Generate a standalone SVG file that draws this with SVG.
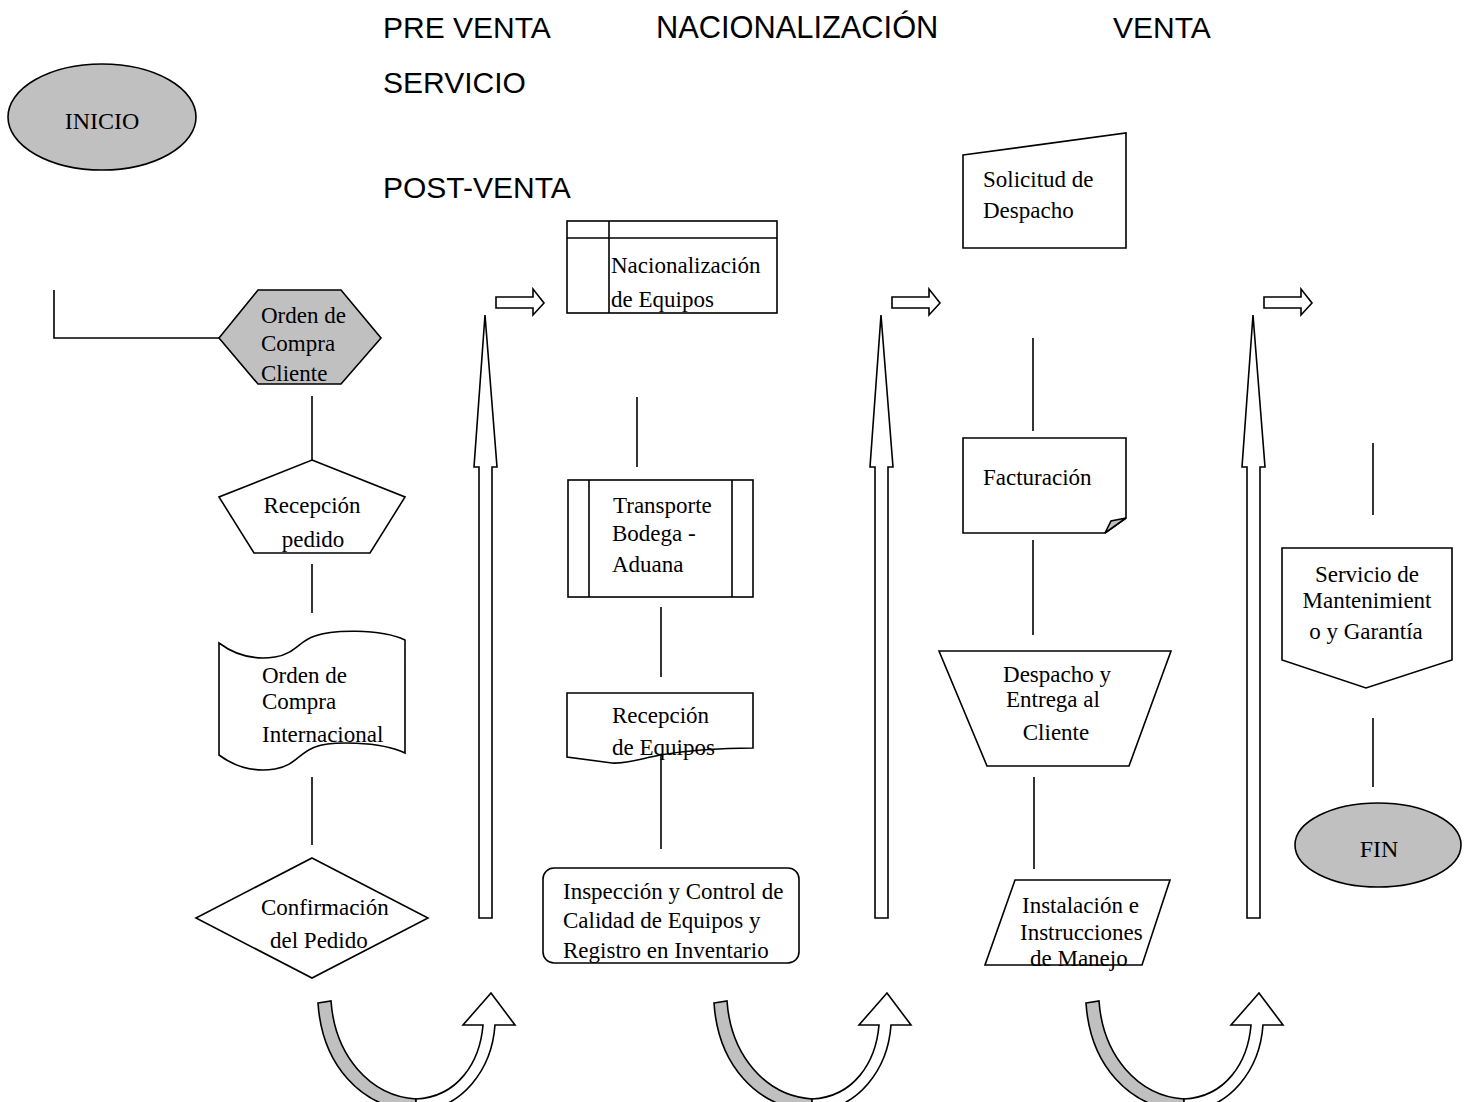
<svg xmlns="http://www.w3.org/2000/svg" width="1465" height="1102" viewBox="0 0 1465 1102">
<style>
.s{fill:#fff;stroke:#000;stroke-width:1.6;stroke-linejoin:miter}
.g{fill:#c0c0c0;stroke:#000;stroke-width:1.6}
.ln{fill:none;stroke:#000;stroke-width:1.6}
.t{font-family:"Liberation Serif","Times New Roman",serif;font-size:23px;fill:#000}
.h{font-family:"Liberation Sans",Arial,sans-serif;font-size:30px;fill:#000}
.m{text-anchor:middle}
</style>
<defs>
<g id="tall">
<path class="s" d="M479,918 L479,467 L474,467 L485,315 L497,467 L492,467 L492,918 Z"/>
</g>
<g id="small">
<path class="s" d="M496,297 L533,297 L533,289 L544,303 L533,315 L533,308 L496,308 Z"/>
</g>
<g id="uturn">
<path class="g" d="M318,1003 L331,1001 C335,1056 370,1096 416,1099 L416,1111 C360,1108 322,1064 318,1003 Z"/>
<path class="s" d="M416,1111 C463,1110 492,1068 495,1025 L515,1025 L491,993 L463,1025 L483,1025 C480,1062 458,1097 416,1099 Z"/>
</g>
</defs>

<g id="headers">
<text class="h" x="383" y="38">PRE VENTA</text>
<text class="h" x="656" y="38" style="font-size:30.8px">NACIONALIZACIÓN</text>
<text class="h" x="1113" y="38">VENTA</text>
<text class="h" x="383" y="93">SERVICIO</text>
<text class="h" x="383" y="198">POST-VENTA</text>
</g>

<g id="connectors">
<polyline class="ln" points="54,290 54,338 219,338"/>
<line class="ln" x1="312" y1="396" x2="312" y2="460"/>
<line class="ln" x1="312" y1="564" x2="312" y2="613"/>
<line class="ln" x1="312" y1="777" x2="312" y2="845"/>
<line class="ln" x1="637" y1="397" x2="637" y2="467"/>
<line class="ln" x1="661" y1="607" x2="661" y2="677"/>
<line class="ln" x1="661" y1="752" x2="661" y2="849"/>
<line class="ln" x1="1033" y1="338" x2="1033" y2="431"/>
<line class="ln" x1="1033" y1="540" x2="1033" y2="635"/>
<line class="ln" x1="1034" y1="777" x2="1034" y2="869"/>
<line class="ln" x1="1373" y1="443" x2="1373" y2="515"/>
<line class="ln" x1="1373" y1="718" x2="1373" y2="787"/>
<use href="#tall"/>
<use href="#tall" transform="translate(396,0)"/>
<use href="#tall" transform="translate(768,0)"/>
<use href="#small"/>
<use href="#small" transform="translate(396,0)"/>
<use href="#small" transform="translate(768,0)"/>
<use href="#uturn"/>
<use href="#uturn" transform="translate(396,0)"/>
<use href="#uturn" transform="translate(768,0)"/>
</g>

<g id="inicio">
<ellipse class="g" cx="102" cy="117" rx="94" ry="53"/>
<text class="t m" x="102" y="129" style="font-size:24px">INICIO</text>
</g>

<g id="orden-compra-cliente">
<path class="g" d="M219,338 L258,290 L341,290 L381,338 L341,384 L258,384 Z"/>
<text class="t" x="261" y="323">Orden de</text>
<text class="t" x="261" y="351">Compra</text>
<text class="t" x="261" y="381">Cliente</text>
</g>

<g id="recepcion-pedido">
<path class="s" d="M312,460 L405,497 L370,553 L254,553 L219,497 Z"/>
<text class="t m" x="312" y="513">Recepción</text>
<text class="t m" x="313" y="547">pedido</text>
</g>

<g id="orden-compra-internacional">
<path class="s" d="M219,643 C235,655 255,660 275,657 C295,654 300,640 315,636 C330,630 380,628 405,640 L405,753 C380,741 330,741 315,747 C300,752 295,766 275,769 C255,772 235,767 219,755 Z"/>
<text class="t" x="262" y="683">Orden de</text>
<text class="t" x="262" y="709">Compra</text>
<text class="t" x="262" y="742">Internacional</text>
</g>

<g id="confirmacion">
<path class="s" d="M312,858 L428,918 L312,978 L196,918 Z"/>
<text class="t" x="261" y="915">Confirmación</text>
<text class="t" x="270" y="948">del Pedido</text>
</g>

<g id="nacionalizacion">
<rect class="s" x="567" y="221" width="210" height="92"/>
<line class="ln" x1="567" y1="238" x2="777" y2="238"/>
<line class="ln" x1="609" y1="221" x2="609" y2="313"/>
<text class="t" x="611" y="273">Nacionalización</text>
<text class="t" x="611" y="307">de Equipos</text>
</g>

<g id="transporte">
<rect class="s" x="568" y="480" width="185" height="117"/>
<line class="ln" x1="589" y1="480" x2="589" y2="597"/>
<line class="ln" x1="732" y1="480" x2="732" y2="597"/>
<text class="t" x="613" y="513">Transporte</text>
<text class="t" x="612" y="541">Bodega -</text>
<text class="t" x="612" y="572">Aduana</text>
</g>

<g id="recepcion-equipos">
<path class="s" d="M567,693 L753,693 L753,748 C720,748 690,750 660,755 C640,759 625,764 612,763 L567,757 Z"/>
<text class="t" x="612" y="723">Recepción</text>
<text class="t" x="612" y="755">de Equipos</text>
</g>

<g id="inspeccion">
<rect class="s" x="543" y="868" width="256" height="95" rx="11"/>
<text class="t" x="563" y="899">Inspección y Control de</text>
<text class="t" x="563" y="928">Calidad de Equipos y</text>
<text class="t" x="563" y="958">Registro en Inventario</text>
</g>

<g id="solicitud">
<path class="s" d="M963,155 L1126,133 L1126,248 L963,248 Z"/>
<text class="t" x="983" y="187">Solicitud de</text>
<text class="t" x="983" y="218">Despacho</text>
</g>

<g id="facturacion">
<path class="s" d="M963,438 L1126,438 L1126,518 L1105,533 L963,533 Z"/>
<path class="g" d="M1105,533 L1111,521 L1126,518 Z"/>
<text class="t" x="983" y="485">Facturación</text>
</g>

<g id="despacho">
<path class="s" d="M939,651 L1171,651 L1129,766 L987,766 Z"/>
<text class="t m" x="1057" y="682">Despacho y</text>
<text class="t m" x="1053" y="707">Entrega al</text>
<text class="t m" x="1056" y="740">Cliente</text>
</g>

<g id="instalacion">
<path class="s" d="M1015,880 L1170,880 L1142,965 L985,965 Z"/>
<text class="t" x="1022" y="913">Instalación e</text>
<text class="t" x="1020" y="940">Instrucciones</text>
<text class="t" x="1030" y="966">de Manejo</text>
</g>

<g id="servicio">
<path class="s" d="M1282,548 L1452,548 L1452,660 L1366,688 L1282,660 Z"/>
<text class="t m" x="1367" y="582">Servicio de</text>
<text class="t m" x="1367" y="608">Mantenimient</text>
<text class="t m" x="1366" y="639">o y Garantía</text>
</g>

<g id="fin">
<ellipse class="g" cx="1378" cy="845" rx="83" ry="42"/>
<text class="t m" x="1379" y="857" style="font-size:24px">FIN</text>
</g>
</svg>
